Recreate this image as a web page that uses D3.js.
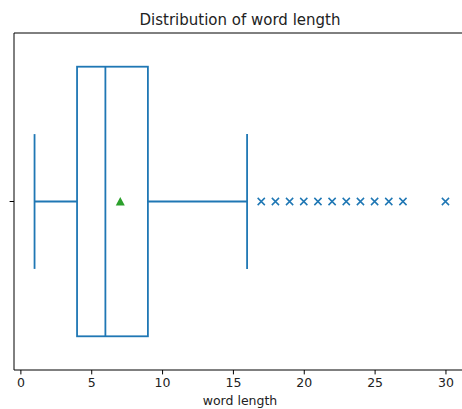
<!DOCTYPE html>
<html>
<head>
<meta charset="utf-8">
<script src="https://cdn.jsdelivr.net/npm/d3@7"></script>
<style>
  body { margin: 0; background: #fff; }
  text { font-family: "DejaVu Sans", sans-serif; }
</style>
</head>
<body>
<div id="chart"></div>
<script>
// box statistics for word length
let boxStats = [1, 4, 6, 9, 16]; // whisker low, q1, median, q3, whisker high
let meanValue = [7.05];
let outliers = [17, 18, 19, 20, 21, 22, 23, 24, 25, 26, 27, 30];
let xTicks = [0, 5, 10, 15, 20, 25, 30];

let width = 462, height = 409;
let margin = { left: 14, top: 33, right: -4, bottom: 39 };
let blue = '#1f77b4';

let svg = d3.select('#chart').append('svg')
    .attr('width', width)
    .attr('height', height);

let x = d3.scaleLinear()
    .domain([1 - 29 * 0.05, 30 + 29 * 0.05])
    .range([margin.left, width - margin.right]);
let y = d3.scaleLinear()
    .domain([1.5, 0.5])
    .range([margin.top, height - margin.bottom]);

let g = svg.append('g');

// x axis
let xAxis = svg.append('g')
    .attr('transform', 'translate(0,' + (height - margin.bottom) + ')')
    .call(d3.axisBottom(x).tickValues(xTicks).tickSize(4.4).tickPadding(4).tickSizeOuter(0));
xAxis.select('.domain').remove();
xAxis.selectAll('text').style('font-size', '12.5px').attr('fill', '#222');
xAxis.selectAll('line').attr('stroke', '#000').attr('stroke-width', 1);

// y axis tick (no label)
svg.append('line')
    .attr('x1', margin.left - 4.4).attr('x2', margin.left)
    .attr('y1', y(1)).attr('y2', y(1))
    .attr('stroke', '#000').attr('stroke-width', 1);

let [lo, q1, med, q3, hi] = boxStats;
let style = sel => sel.attr('stroke', blue).attr('stroke-width', 1.8).attr('fill', 'none');

// whiskers
g.append('line').attr('x1', x(lo)).attr('x2', x(q1)).attr('y1', y(1)).attr('y2', y(1)).call(style);
g.append('line').attr('x1', x(q3)).attr('x2', x(hi)).attr('y1', y(1)).attr('y2', y(1)).call(style);
// caps
[lo, hi].forEach(v => {
    g.append('line').attr('x1', x(v)).attr('x2', x(v))
        .attr('y1', y(1.2)).attr('y2', y(0.8)).call(style);
});
// box
g.append('rect')
    .attr('x', x(q1)).attr('width', x(q3) - x(q1))
    .attr('y', y(1.4)).attr('height', y(0.6) - y(1.4))
    .call(style);
// median
g.append('line').attr('x1', x(med)).attr('x2', x(med))
    .attr('y1', y(1.4)).attr('y2', y(0.6)).call(style);

// outliers
let s = 3.6;
g.selectAll('.flier').data(outliers).enter().append('path')
    .attr('class', 'flier')
    .attr('d', d => 'M' + (x(d) - s) + ',' + (y(1) - s) + 'L' + (x(d) + s) + ',' + (y(1) + s) +
        'M' + (x(d) - s) + ',' + (y(1) + s) + 'L' + (x(d) + s) + ',' + (y(1) - s))
    .attr('stroke', blue).attr('stroke-width', 1.5).attr('fill', 'none');

// mean marker
g.selectAll('.mean').data(meanValue).enter().append('path')
    .attr('class', 'mean')
    .attr('transform', d => 'translate(' + x(d) + ',' + y(1) + ')')
    .attr('d', 'M0,-4.5L4.5,4L-4.5,4Z')
    .attr('fill', '#2ca02c');

// spines
let frame = svg.append('g').attr('stroke', '#000').attr('stroke-width', 1);
frame.append('line').attr('x1', margin.left).attr('x2', margin.left)
    .attr('y1', margin.top).attr('y2', height - margin.bottom);
frame.append('line').attr('x1', margin.left).attr('x2', width - margin.right)
    .attr('y1', margin.top).attr('y2', margin.top);
frame.append('line').attr('x1', margin.left).attr('x2', width - margin.right)
    .attr('y1', height - margin.bottom).attr('y2', height - margin.bottom);

// title and label
svg.append('text')
    .attr('x', (margin.left + width - margin.right) / 2).attr('y', 25)
    .attr('text-anchor', 'middle').style('font-size', '15px').attr('fill', '#222')
    .text('Distribution of word length');
svg.append('text')
    .attr('x', (margin.left + width - margin.right) / 2).attr('y', 405)
    .attr('text-anchor', 'middle').style('font-size', '12.5px').attr('fill', '#222')
    .text('word length');
</script>
</body>
</html>
